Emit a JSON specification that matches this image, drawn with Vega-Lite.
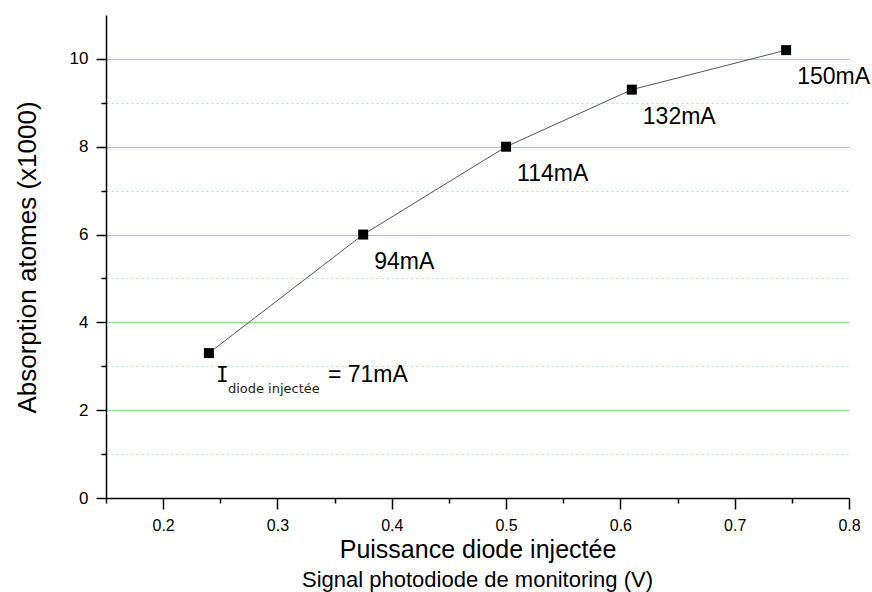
{
  "$schema": "https://vega.github.io/schema/vega-lite/v6.json",
  "width": 743,
  "height": 483,
  "autosize": {"type": "none"},
  "padding": {"left": 106, "top": 15, "right": 23, "bottom": 94},
  "background": "white",
  "config": {"view": {"stroke": null}, "font": "Liberation Sans"},
  "title": {"text": "Signal photodiode de monitoring (V)", "orient": "bottom", "anchor": "middle", "font": "Liberation Sans", "fontSize": 22, "fontWeight": "normal", "color": "black", "offset": 8},
  "data": {"values": [
    {"puissance": 0.24, "absorption": 3.3, "courant": "= 71mA", "symbole": "I", "indice": "diode injectée"},
    {"puissance": 0.375, "absorption": 6.0, "courant": "94mA"},
    {"puissance": 0.5, "absorption": 8.0, "courant": "114mA"},
    {"puissance": 0.61, "absorption": 9.3, "courant": "132mA"},
    {"puissance": 0.745, "absorption": 10.2, "courant": "150mA"}
  ]},
  "encoding": {
    "x": {"field": "puissance", "type": "quantitative",
      "scale": {"domain": [0.15, 0.8], "nice": false, "zero": false},
      "axis": {
        "values": [0.15, 0.2, 0.25, 0.3, 0.35, 0.4, 0.45, 0.5, 0.55, 0.6, 0.65, 0.7, 0.75, 0.8],
        "labelExpr": "round(datum.value*20)%2==0 ? format(datum.value,'.1f') : ''",
        "tickSize": {"condition": {"test": "round(datum.value*20)%2==1", "value": 5}, "value": 11},
        "grid": false,
        "domainColor": "black", "domainWidth": 1.5,
        "tickColor": "black", "tickWidth": 1.5,
        "labelFont": "Liberation Sans", "labelFontSize": 16, "labelColor": "black", "labelPadding": 8,
        "labelFlush": false, "labelOverlap": false,
        "title": "Puissance diode injectée",
        "titleFont": "Liberation Sans", "titleFontSize": 25, "titleFontWeight": "normal", "titleColor": "black",
        "titleBaseline": "middle", "titleY": 51, "titleX": 371.5, "titleAlign": "center"
      }},
    "y": {"field": "absorption", "type": "quantitative",
      "scale": {"domain": [0, 11], "nice": false},
      "axis": {
        "values": [0, 1, 2, 3, 4, 5, 6, 7, 8, 9, 10],
        "labelExpr": "datum.value%2==0 ? datum.label : ''",
        "tickSize": {"condition": {"test": "datum.value%2==1", "value": 5}, "value": 10},
        "grid": true,
        "gridColor": {"condition": {"test": "datum.value%2==1", "value": "#a6f0a6"}, "value": "#86e886"},
        "gridDash": {"condition": {"test": "datum.value%2==1", "value": [2, 3]}, "value": []},
        "gridOpacity": {"condition": {"test": "datum.value==0", "value": 0}, "value": 1},
        "gridWidth": 1.2,
        "domainColor": "black", "domainWidth": 1.5,
        "tickColor": "black", "tickWidth": 1.5,
        "labelFont": "Liberation Sans", "labelFontSize": 17, "labelColor": "black", "labelPadding": 8,
        "labelFlush": false, "labelOverlap": false,
        "title": "Absorption atomes (x1000)",
        "titleFont": "Liberation Sans", "titleFontSize": 26, "titleFontWeight": "normal", "titleColor": "black",
        "titleAngle": 270, "titleBaseline": "middle", "titleAlign": "center", "titleX": -79, "titleY": 242
      }}
  },
  "layer": [
    {"mark": {"type": "line", "color": "#555555", "strokeWidth": 1}},
    {"mark": {"type": "point", "shape": "square", "filled": true, "color": "black", "size": 100, "opacity": 1}},
    {"transform": [{"filter": "datum.puissance > 0.3"}],
     "mark": {"type": "text", "align": "left", "baseline": "middle", "dx": 11, "dy": 27, "fontSize": 23, "font": "Liberation Sans", "color": "black"},
     "encoding": {"text": {"field": "courant"}}},
    {"transform": [{"filter": "datum.puissance < 0.3"}],
     "mark": {"type": "text", "align": "left", "baseline": "middle", "dx": 119, "dy": 22, "fontSize": 23, "font": "Liberation Sans", "color": "black"},
     "encoding": {"text": {"field": "courant"}}},
    {"transform": [{"filter": "datum.puissance < 0.3"}],
     "mark": {"type": "text", "align": "left", "baseline": "middle", "dx": 7, "dy": 23, "fontSize": 21, "font": "DejaVu Sans Mono", "color": "black"},
     "encoding": {"text": {"field": "symbole"}}},
    {"transform": [{"filter": "datum.puissance < 0.3"}],
     "mark": {"type": "text", "align": "left", "baseline": "middle", "dx": 19, "dy": 36, "fontSize": 13, "font": "DejaVu Sans", "color": "#222222"},
     "encoding": {"text": {"field": "indice"}}}
  ]
}
